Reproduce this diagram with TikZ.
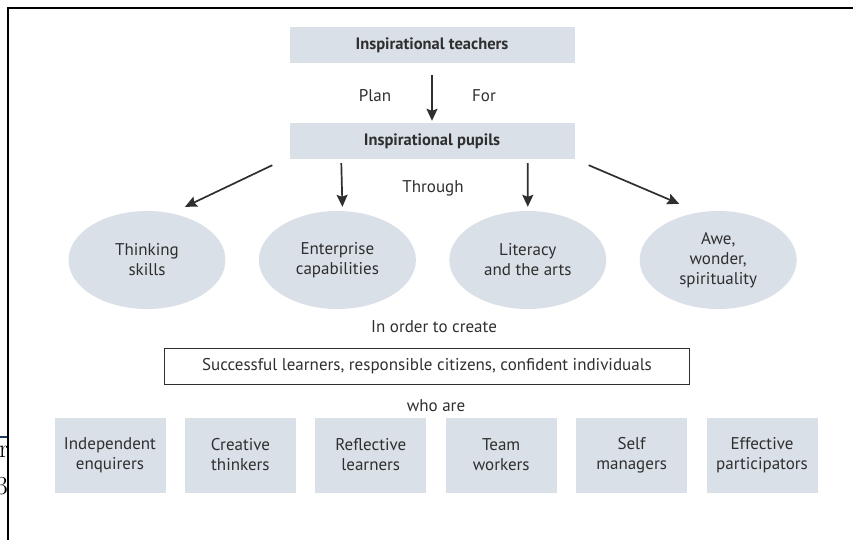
\documentclass[tikz,border=0pt]{standalone}
\usepackage{fontspec}
\setsansfont{PT Sans}
\usetikzlibrary{arrows.meta,positioning,shapes.geometric}

\definecolor{boxfill}{HTML}{D9E0E8}
\definecolor{inkgray}{HTML}{2F2F2F}
\definecolor{pagenavy}{HTML}{1F3A60}

\begin{document}
\begin{tikzpicture}[
        x=1pt, y=-1pt,
        font=\sffamily\fontsize{17}{20}\selectfont,
        every node/.style={text=inkgray, align=center, inner sep=0pt},
        headbox/.style={fill=boxfill, minimum width=285pt, minimum height=36pt, font=\sffamily\bfseries\fontsize{16.5}{20}\selectfont},
        idea/.style={ellipse, fill=boxfill, minimum width=157pt, minimum height=98pt},
        trait/.style={fill=boxfill, minimum width=111pt, minimum height=75pt},
        arr/.style={-{Stealth[length=12pt,width=11pt,inset=2pt]}, line width=1.7pt, draw=inkgray},
    ]
    \useasboundingbox (0,0) rectangle (853,540);

    % edge of the next page
    \begin{scope}
    \clip (0,0) rectangle (7,540);
    \node[font=\rmfamily\fontsize{26}{26}\selectfont, text=black, anchor=west] (fragr) at (-1,452) {r};
    \node[font=\rmfamily\fontsize{26}{26}\selectfont, text=black, anchor=east] (fragthree) at (8,486) {3};
    \end{scope}
    \draw[pagenavy, line width=1.2pt] (0,437) -- (8,437);
    \draw[black, line width=2.2pt] (8,540) -- (8,8) -- (853,8);

    \node[headbox] (teachers) at (432,45) {Inspirational teachers};
    \node[headbox] (pupils) at (432,141) {Inspirational pupils};
    \node (plan) at (375,96) {Plan};
    \node (for) at (484,96) {For};
    \draw[arr] ([yshift=-12pt]teachers.south) -- ([yshift=2pt]pupils.north);

    \node (through) at (433,188) {Through};
    \node[idea] (think) at (147,260) {Thinking\\skills};
    \node[idea, right=33pt of think] (enter) {Enterprise\\capabilities};
    \node[idea, right=33pt of enter] (lit) {Literacy\\and the arts};
    \node[idea, right=33pt of lit] (awe) {Awe,\\wonder,\\spirituality};

    \draw[arr] ([xshift=-17pt,yshift=-6pt]pupils.south west) -- ([xshift=38pt,yshift=4pt]think.north);
    \draw[arr] ([xshift=52pt,yshift=-4pt]pupils.south west) -- ([xshift=5pt,yshift=4pt]enter.north);
    \draw[arr] ([xshift=-47pt,yshift=-4pt]pupils.south east) -- ([yshift=4pt]lit.north);
    \draw[arr] ([xshift=14pt,yshift=-6pt]pupils.south east) -- ([xshift=-39pt,yshift=7pt]awe.north);

    \node (create) at (434,327) {In order to create};
    \node[draw=inkgray, line width=1pt, minimum width=525pt, minimum height=36pt] (result) at (427,366)
        {Successful learners, responsible citizens, confident individuals};
    \node (whoare) at (436,406) {who are};

    \node[trait] (indep) at (110,455) {Independent\\enquirers};
    \node[trait, right=19pt of indep] (creative) {Creative\\thinkers};
    \node[trait, right=19pt of creative] (reflect) {Reflective\\learners};
    \node[trait, right=19pt of reflect] (team) {Team\\workers};
    \node[trait, right=19pt of team] (selfm) {Self\\managers};
    \node[trait, right=19pt of selfm] (effect) {Effective\\participators};
\end{tikzpicture}
\end{document}
